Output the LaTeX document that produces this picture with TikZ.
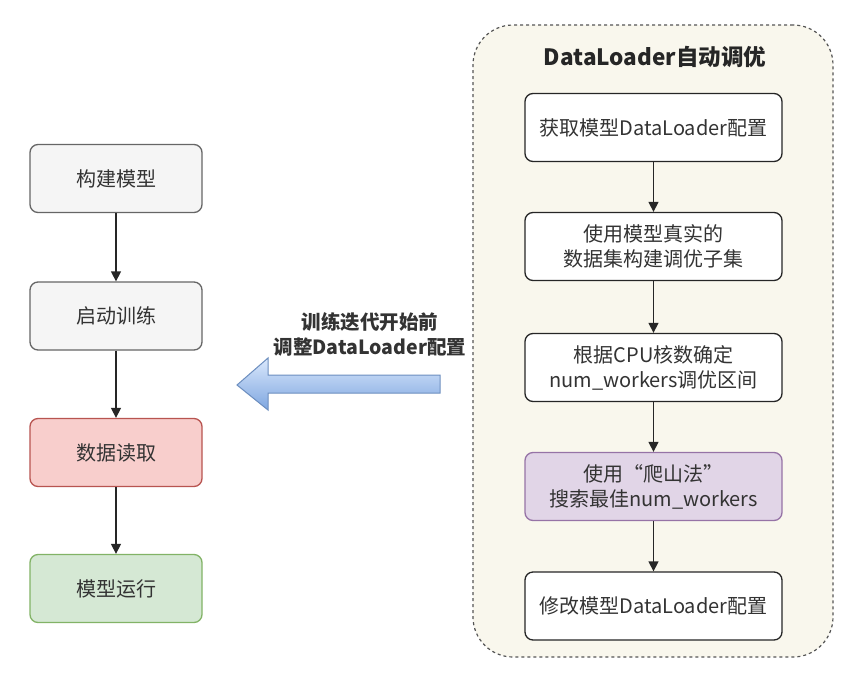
\documentclass[tikz,border=0pt]{standalone}
\usepackage{fontspec}
\setmainfont{Noto Sans CJK SC}
\usetikzlibrary{arrows.meta}
\definecolor{grayfill}{HTML}{F5F5F5}
\definecolor{graydraw}{HTML}{666666}
\definecolor{redfill}{HTML}{F8CECC}
\definecolor{reddraw}{HTML}{B85450}
\definecolor{greenfill}{HTML}{D5E8D4}
\definecolor{greendraw}{HTML}{82B366}
\definecolor{purplefill}{HTML}{E1D5E7}
\definecolor{purpledraw}{HTML}{9673A6}
\definecolor{contfill}{HTML}{F9F7ED}
\definecolor{contdraw}{HTML}{555555}
\definecolor{textdark}{HTML}{333333}
\definecolor{arrowtop}{HTML}{DAE8FC}
\definecolor{arrowbot}{HTML}{7EA6E0}
\definecolor{arrowdraw}{HTML}{6C8EBF}
\begin{document}
\begin{tikzpicture}[x=1pt,y=-1pt,
  basebox/.style={rounded corners=8pt, line width=1.3pt, align=center,
    font=\fontsize{20}{25}\selectfont, text=textdark, inner sep=0pt},
  leftbox/.style={basebox, minimum width=172pt, minimum height=68pt},
  rightbox/.style={basebox, minimum width=257pt, minimum height=68pt},
  grey/.style={fill=grayfill, draw=graydraw},
  plain/.style={fill=white, draw=black!85},
  flow/.style={-{Triangle[length=10pt,width=10pt]}, line width=1.3pt, draw=black!85},
  lbl/.style={font=\bfseries\fontsize{19.5}{25}\selectfont, text=textdark, align=center}
]
\useasboundingbox (0,0) rectangle (865,678);
\fill[white] (0,0) rectangle (865,678);

% left column
\node[leftbox, grey] (b1) at (116,178.5) {构建模型};
\node[leftbox, grey] (b2) at (116,316) {启动训练};
\node[leftbox, fill=redfill, draw=reddraw] (b3) at (116,452.5) {数据读取};
\node[leftbox, fill=greenfill, draw=greendraw] (b4) at (116,588.5) {模型运行};
\draw[flow] (b1) -- (b2);
\draw[flow] (b2) -- (b3);
\draw[flow] (b3) -- (b4);

% container
\node[draw=contdraw, fill=contfill, line width=1.2pt, dash pattern=on 3pt off 3pt,
  rounded corners=40pt, minimum width=360pt, minimum height=632pt] (cont) at (653,341) {};
\node[font=\bfseries\fontsize{22.5}{26}\selectfont, text=black!85] (title) at (655,57) {DataLoader自动调优};

% right column
\node[rightbox, plain] (r1) at (653.5,127.5) {获取模型DataLoader配置};
\node[rightbox, plain] (r2) at (653.5,246.5) {使用模型真实的\\数据集构建调优子集};
\node[rightbox, plain] (r3) at (653.5,367.5) {根据CPU核数确定\\num\_workers调优区间};
\node[rightbox, fill=purplefill, draw=purpledraw] (r4) at (653.5,486.5) {使用“爬山法”\\搜索最佳num\_workers};
\node[rightbox, plain] (r5) at (653.5,606) {修改模型DataLoader配置};
\draw[flow] (r1) -- (r2);
\draw[flow] (r2) -- (r3);
\draw[flow] (r3) -- (r4);
\draw[flow] (r4) -- (r5);

% big arrow
\coordinate (tip) at (237,385);
\shade[top color=arrowtop, bottom color=arrowbot, draw=arrowdraw, line width=1pt]
  (tip) -- (268,358) -- (268,375) -- (440,375) -- (440,393) -- (268,393) -- (268,410) -- cycle;
\node[lbl] (lab) at (370,334) {训练迭代开始前\\调整DataLoader配置};
\end{tikzpicture}
\end{document}
